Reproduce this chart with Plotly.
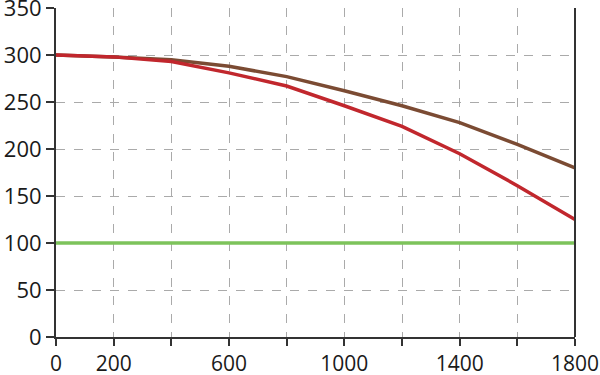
import plotly.graph_objects as go

x_vals = [0, 200, 400, 600, 800, 1000, 1200, 1400, 1600, 1800]
brown_vals = [300, 298, 295, 288, 277, 262, 246, 228, 205, 180]
red_vals = [300, 298, 293, 281, 267, 246, 224, 195, 161, 125]
green_vals = [100] * len(x_vals)

x_tickvals = [0, 200, 400, 600, 800, 1000, 1200, 1400, 1600, 1800]
x_ticktext = ["0", "200", "", "600", "", "1000", "", "1400", "", "1800"]
y_tickvals = [0, 50, 100, 150, 200, 250, 300, 350]

fig = go.Figure()
fig.add_trace(go.Scatter(x=x_vals, y=green_vals, mode="lines",
                         line=dict(color="#7dc35b", width=3.5), showlegend=False))
fig.add_trace(go.Scatter(x=x_vals, y=brown_vals, mode="lines",
                         line=dict(color="#7b4b33", width=3.5), showlegend=False))
fig.add_trace(go.Scatter(x=x_vals, y=red_vals, mode="lines",
                         line=dict(color="#c1272d", width=3.5), showlegend=False))

axis_common = dict(showline=True, linecolor="#333", linewidth=2,
                   ticks="outside", tickwidth=2, tickcolor="#333",
                   showgrid=True, gridcolor="#aaaaaa", griddash="dash", gridwidth=1,
                   zeroline=False, automargin=False, ticklabeloverflow="allow")

fig.update_layout(
    width=600, height=375,
    margin=dict(l=56, r=25, t=8, b=38),
    paper_bgcolor="white", plot_bgcolor="white",
    font=dict(family="Open Sans", size=22, color="#1a1a1a"),
    xaxis=dict(range=[0, 1800], tickvals=x_tickvals, ticktext=x_ticktext,
               ticklen=7, tickfont=dict(size=21), **axis_common),
    yaxis=dict(range=[0, 350], tickvals=y_tickvals,
               ticklen=8, tickfont=dict(size=22), **axis_common),
    shapes=[dict(type="line", xref="paper", yref="paper", x0=1, x1=1, y0=0, y1=1,
                 line=dict(color="#333", width=2))],
)

fig.write_html("out.html",
               config={"displayModeBar": False, "staticPlot": True},
               post_script="document.body.style.margin='0';"
                           "document.body.style.overflow='hidden';")
